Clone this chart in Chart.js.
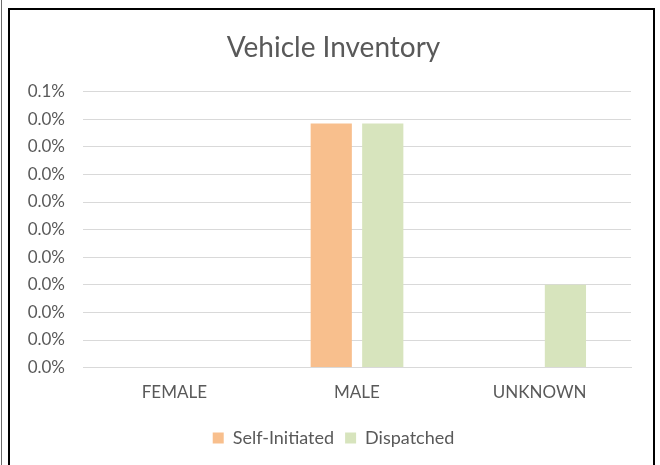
<!DOCTYPE html>
<html>
<head>
<meta charset="utf-8">
<script src="https://cdn.jsdelivr.net/npm/chart.js@4/dist/chart.umd.min.js"></script>
<style>
  html, body { margin: 0; padding: 0; background: #ffffff; }
  #wrap { position: absolute; left: 0; top: 0; width: 660px; height: 465px; overflow: hidden; }
  #c { position: absolute; left: 0; top: 0; }
  #outer { position: absolute; left: 1px; top: 0; width: 1px; height: 465px; background: #6a6a6a; }
  #frame { position: absolute; left: 8px; top: 8px; width: 643px; height: 470px;
           border-left: 2px solid #000; border-top: 2px solid #000; border-right: 2px solid #000; }
</style>
</head>
<body>
<div id="wrap">
  <canvas id="c" width="660" height="465"></canvas>
  <div id="outer"></div>
  <div id="frame"></div>
</div>
<script>
const categories = ["FEMALE", "MALE", "UNKNOWN"];
const seriesNames = ["Self-Initiated", "Dispatched"];
const selfInitiated = [0, 0.0442, 0];    // percent
const dispatched = [0, 0.0442, 0.0150];  // percent
const axisMax = 0.05;                    // percent
const axisStep = 0.005;                  // percent
const seriesColors = ["#F8BF8D", "#D7E4BD"];

const FONT = "Lato, 'Open Sans', sans-serif";
const TXT = "#595959";

new Chart(document.getElementById("c"), {
  type: "bar",
  data: {
    labels: categories,
    datasets: [
      { label: seriesNames[0], data: selfInitiated, backgroundColor: seriesColors[0],
        categoryPercentage: 0.564, barPercentage: 0.8 },
      { label: seriesNames[1], data: dispatched, backgroundColor: seriesColors[1],
        categoryPercentage: 0.564, barPercentage: 0.8 }
    ]
  },
  options: {
    responsive: false,
    animation: false,
    devicePixelRatio: 1,
    layout: { padding: { left: 20, right: 13, top: 0, bottom: 8 } },
    plugins: {
      title: { display: true, text: "Vehicle Inventory", color: TXT,
               font: { family: FONT, size: 28, weight: "normal" },
               padding: { top: 31, bottom: 27 } },
      legend: { position: "bottom",
                labels: { color: TXT, font: { family: FONT, size: 18 },
                          boxWidth: 11, boxHeight: 11, padding: 11 } },
      tooltip: { enabled: false }
    },
    scales: {
      x: {
        grid: { display: false, drawTicks: false },
        border: { display: true, color: "#D9D9D9", width: 1 },
        ticks: { color: TXT, font: { family: FONT, size: 17 }, padding: 15 }
      },
      y: {
        min: 0, max: axisMax,
        afterFit: (s) => { s.width = 63; },
        grid: { color: "#D9D9D9", drawTicks: false },
        border: { display: false },
        ticks: { stepSize: axisStep, color: TXT, font: { family: FONT, size: 17 }, padding: 18,
                 callback: (v) => (Math.round(Number(v) * 10 + 1e-9) / 10).toFixed(1) + "%" }
      },
      yRightSpace: {
        position: "right",
        min: 0, max: axisMax,
        afterFit: (s) => { s.width = 16; },
        grid: { display: false, drawTicks: false },
        border: { display: false },
        ticks: { display: false }
      }
    }
  }
});
</script>
</body>
</html>
